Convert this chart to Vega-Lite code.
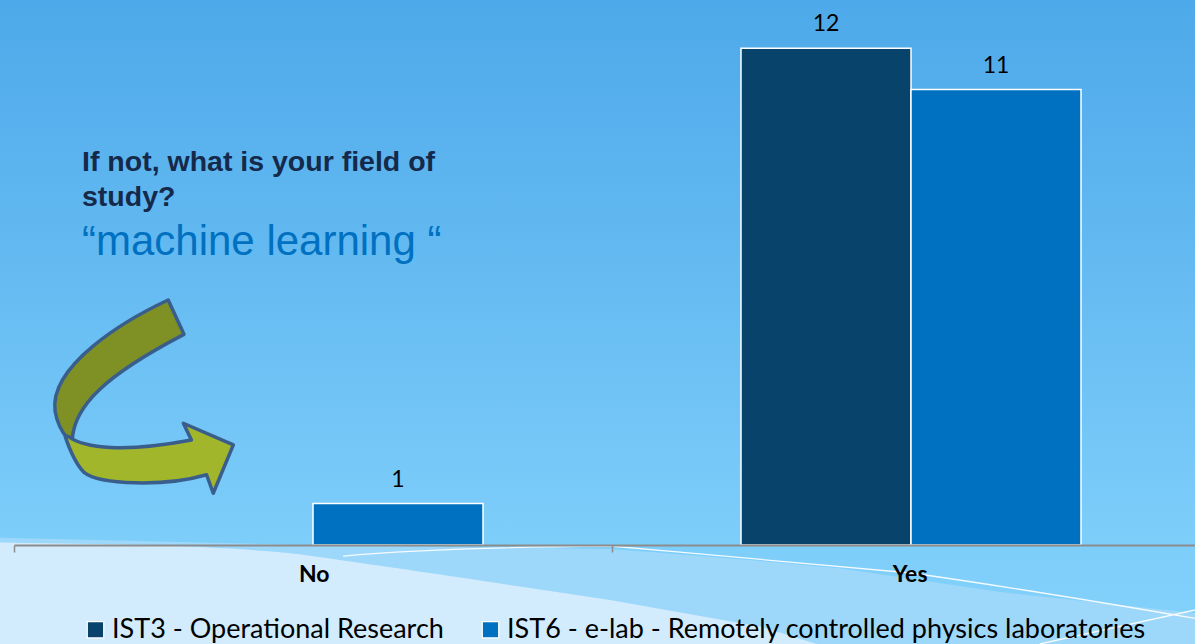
{
  "$schema": "https://vega.github.io/schema/vega-lite/v6.json",
  "width": 1195,
  "height": 644,
  "padding": 0,
  "autosize": "none",
  "config": {
    "view": {
      "stroke": null,
      "fill": {
        "gradient": "linear",
        "x1": 0, "y1": 0, "x2": 0, "y2": 1,
        "stops": [
          {"offset": 0, "color": "#4EA9EA"},
          {"offset": 0.45, "color": "#66BCF2"},
          {"offset": 0.85, "color": "#7ECEFA"},
          {"offset": 1, "color": "#84D2FB"}
        ]
      }
    },
    "axis": {"grid": false}
  },
  "layer": [
    {
      "data": {"values": [{"cat": "No", "v": -1.1836}]},
      "mark": {
        "type": "point", "filled": true, "opacity": 1, "strokeWidth": 0,
        "shape": "M -1.05 -0.095 L -0.4867 -0.0817 L 0.0217 -0.075 C 0.2 -0.062 0.33 -0.05 0.4017 -0.0433 L 0.6717 -0.0033 L 0.9967 0.0317 L 1.05 0.04 L 1.05 0.12 L -1.05 0.12 Z",
        "size": 1440000, "fill": "#9DD8FB"
      },
      "encoding": {
        "x": {"field": "cat", "type": "nominal", "bandPosition": 0.975},
        "y": {"field": "v", "type": "quantitative", "axis": null}
      }
    },
    {
      "data": {"values": [{"cat": "No", "v": -1.1836}]},
      "mark": {
        "type": "point", "filled": true, "opacity": 1, "strokeWidth": 0,
        "shape": "M -1.05 -0.087 L -0.7417 -0.0817 C -0.6 -0.077 -0.5 -0.068 -0.4867 -0.065 C -0.38 -0.05 -0.3 -0.038 -0.2333 -0.0283 L 0.0217 0.01 L 0.275 0.055 L 0.42 0.1 L 0.45 0.12 L -1.05 0.12 Z",
        "size": 1440000, "fill": "#D2ECFD"
      },
      "encoding": {
        "x": {"field": "cat", "type": "nominal", "bandPosition": 0.975},
        "y": {"field": "v", "type": "quantitative", "axis": null}
      }
    },
    {
      "data": {"values": [{"cat": "No", "v": -1.1836}]},
      "mark": {
        "type": "point", "filled": false, "opacity": 0.9,
        "shape": "M -0.4233 -0.0633 C -0.33 -0.072 -0.2 -0.078 0.0217 -0.08 C 0.2 -0.065 0.4 -0.045 0.5233 -0.035 C 0.7 -0.01 0.85 0.015 1.05 0.05 M 0.738 0.0833 L 1.05 0.015",
        "size": 1440000, "stroke": "white", "strokeWidth": 1.3
      },
      "encoding": {
        "x": {"field": "cat", "type": "nominal", "bandPosition": 0.975},
        "y": {"field": "v", "type": "quantitative", "axis": null}
      }
    },
    {
      "data": {"name": "bars", "values": [
        {"cat": "No", "series": "IST6 - e-lab - Remotely controlled physics laboratories", "value": 1},
        {"cat": "Yes", "series": "IST3 - Operational Research", "value": 12},
        {"cat": "Yes", "series": "IST6 - e-lab - Remotely controlled physics laboratories", "value": 11}
      ]},
      "layer": [
        {
          "mark": {"type": "bar", "stroke": "white", "strokeWidth": 1.5},
          "encoding": {
            "color": {
              "field": "series", "type": "nominal",
              "scale": {"domain": ["IST3 - Operational Research", "IST6 - e-lab - Remotely controlled physics laboratories"], "range": ["#07436B", "#0070C0"]},
              "legend": {
                "orient": "none", "legendX": 82, "legendY": 616, "direction": "horizontal",
                "title": null, "symbolType": "square", "symbolSize": 270,
                "symbolStrokeColor": "white", "symbolStrokeWidth": 1.2,
                "labelFont": "Lato", "labelFontSize": 27, "labelColor": "black",
                "labelLimit": 800, "labelOffset": 3, "columnPadding": 33
              }
            }
          }
        },
        {
          "mark": {"type": "text", "baseline": "alphabetic", "dy": -17, "font": "Lato", "fontSize": 23, "color": "black"},
          "encoding": {"text": {"field": "value", "type": "quantitative"}}
        }
      ],
      "encoding": {
        "x": {
          "field": "cat", "type": "nominal",
          "scale": {"domain": ["No", "Yes"], "range": [14, 1210], "paddingInner": 0, "paddingOuter": 0},
          "axis": {
            "title": null, "orient": "bottom", "offset": -99, "zindex": 2, "grid": false,
            "domainColor": "#8C8C8C", "domainWidth": 2, "tickColor": "#8C8C8C", "tickWidth": 1.5,
            "tickSize": 7, "tickBand": "extent", "labelAngle": 0, "labelOffset": 16,
            "labelFont": "Lato", "labelFontWeight": "bold", "labelFontSize": 23,
            "labelColor": "black", "labelPadding": 22
          }
        },
        "xOffset": {
          "field": "series", "type": "nominal",
          "scale": {"domain": ["IST3 - Operational Research", "IST6 - e-lab - Remotely controlled physics laboratories"], "paddingInner": 0, "paddingOuter": 0.7588}
        },
        "y": {
          "field": "value", "type": "quantitative",
          "scale": {"domain": [-2.391, 13.164], "nice": false, "zero": false},
          "axis": null
        }
      }
    },
    {
      "data": {"values": [{"cat": "No", "v": 3.6}]},
      "mark": {
        "type": "point", "filled": true, "opacity": 1,
        "shape": "M 0.23 -0.95 C -0.2 -0.75 -0.95 -0.3 -0.89 0.15 C -0.87 0.28 -0.82 0.36 -0.76 0.43 L -0.72 0.43 C -0.7 0.1 -0.4 -0.2 0.386 -0.61 Z",
        "size": 40804, "fill": "#7F9125", "stroke": "#3A5E8C", "strokeWidth": 3.5, "strokeJoin": "round"
      },
      "encoding": {
        "x": {"field": "cat", "type": "nominal", "bandPosition": 0.219},
        "y": {"field": "v", "type": "quantitative", "axis": null}
      }
    },
    {
      "data": {"values": [{"cat": "No", "v": 3.6}]},
      "mark": {
        "type": "point", "filled": true, "opacity": 1,
        "shape": "M -0.76 0.40 C -0.6 0.52 -0.2 0.56 0.46 0.436 L 0.38 0.27 L 0.875 0.485 L 0.676 0.963 L 0.61 0.78 C 0.2 0.9 -0.45 0.88 -0.6 0.76 C -0.68 0.68 -0.74 0.55 -0.79 0.40 Z",
        "size": 40804, "fill": "#A2B62B", "stroke": "#3A5E8C", "strokeWidth": 3.5, "strokeJoin": "round"
      },
      "encoding": {
        "x": {"field": "cat", "type": "nominal", "bandPosition": 0.219},
        "y": {"field": "v", "type": "quantitative", "axis": null}
      }
    },
    {
      "data": {"values": [
        {"cat": "No", "v": 9.03, "label": "If not, what is your field of"},
        {"cat": "No", "v": 8.19, "label": "study?"}
      ]},
      "mark": {"type": "text", "align": "left", "baseline": "alphabetic", "font": "Liberation Sans", "fontWeight": "bold", "fontSize": 28.5, "color": "#15294A"},
      "encoding": {
        "x": {"field": "cat", "type": "nominal", "bandPosition": 0.1137},
        "y": {"field": "v", "type": "quantitative", "axis": null},
        "text": {"field": "label"}
      }
    },
    {
      "data": {"values": [{"cat": "No", "v": 7.0, "label": "“machine learning “"}]},
      "mark": {"type": "text", "align": "left", "baseline": "alphabetic", "font": "Liberation Sans", "fontSize": 42, "color": "#0070C0"},
      "encoding": {
        "x": {"field": "cat", "type": "nominal", "bandPosition": 0.1137},
        "y": {"field": "v", "type": "quantitative", "axis": null},
        "text": {"field": "label"}
      }
    }
  ]
}
